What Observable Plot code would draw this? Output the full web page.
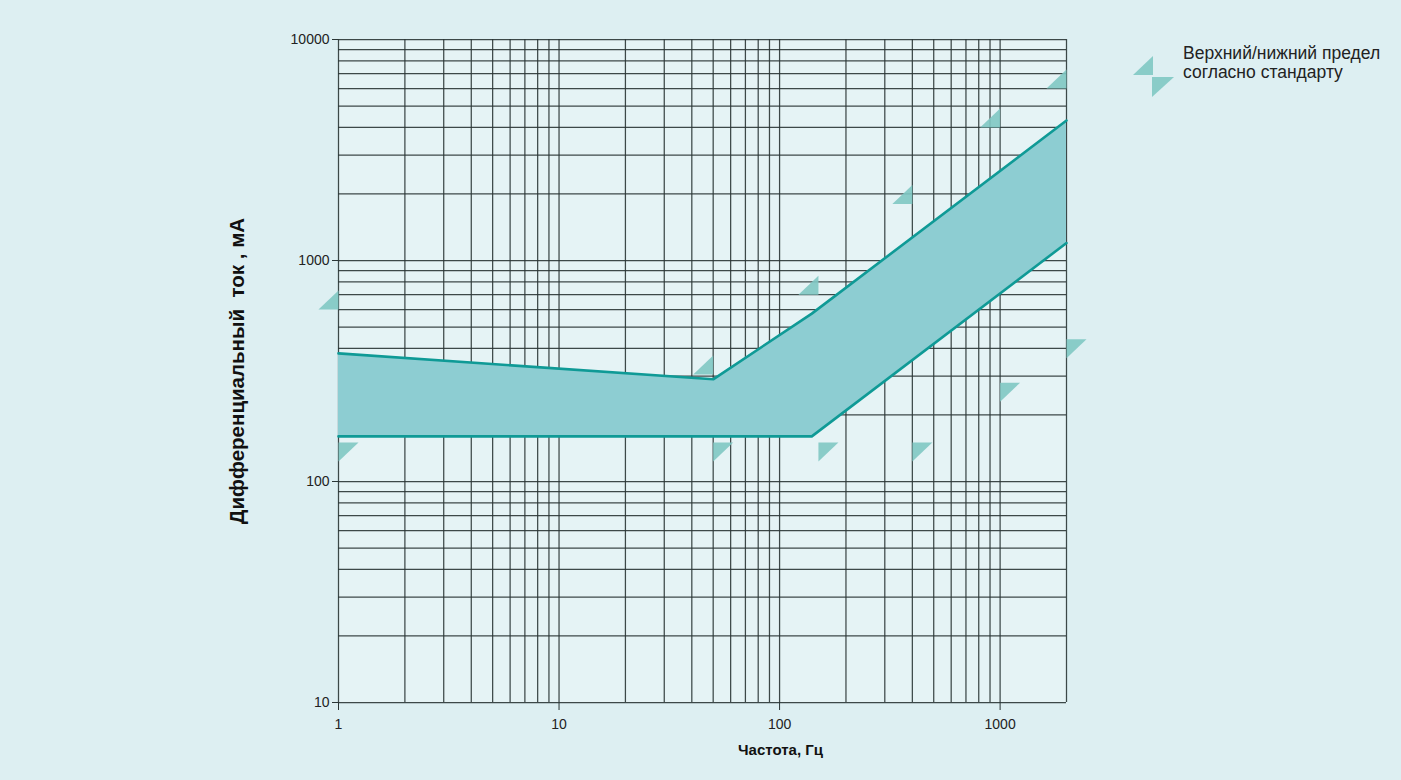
<!DOCTYPE html>
<html>
<head>
<meta charset="utf-8">
<script src="https://cdn.jsdelivr.net/npm/d3@7"></script>
<script src="https://cdn.jsdelivr.net/npm/@observablehq/plot@0.6"></script>
<style>
  html, body { margin: 0; padding: 0; background: #ddeff2; }
  #wrap { position: relative; width: 1401px; height: 780px; overflow: hidden; background: #ddeff2; }
  #legend { position: absolute; left: 1130px; top: 44px; font-family: "Liberation Sans", Arial, sans-serif; font-size: 17.5px; color: #222; }
  #legend svg { position: absolute; left: 0; top: 6px; }
  #legend .txt { position: absolute; left: 53px; top: 0px; line-height: 19px; white-space: nowrap; }
</style>
</head>
<body>
<div id="wrap">
  <div id="chart"></div>
  <div id="legend">
    <svg width="50" height="60">
      <polygon points="3,25 23,6 23,25" fill="#80c8c3" opacity="0.9"/>
      <polygon points="22,27 44,27 22,47" fill="#80c8c3" opacity="0.9"/>
    </svg>
    <div class="txt">Верхний/нижний предел<br>согласно стандарту</div>
  </div>
</div>
<script>
// Band (tripping range) edges
const bandFreq  = [1, 50, 140, 2000];
const bandUpper = [380, 290, 575, 4300];
const bandLower = [160, 160, 160, 1200];

// Standard limits (triangles)
const limitFreq  = [1, 50, 150, 400, 1000, 2000];
const limitUpper = [600, 305, 700, 1800, 4000, 6000];
const limitLower = [150, 150, 150, 150, 280, 440];

// Axis ticks
const xTicks = [1, 10, 100, 1000];
const yTicks = [10, 100, 1000, 10000];

// Grid lines (log paper)
const xGrid = [1,2,3,4,5,6,7,8,9,10,20,30,40,50,60,70,80,90,100,200,300,400,500,600,700,800,900,1000,2000];
const yGrid = [10,20,30,40,50,60,70,80,90,100,200,300,400,500,600,700,800,900,1000,2000,3000,4000,5000,6000,7000,8000,9000,10000];

const band = bandFreq.map((f, i) => ({f, lo: bandLower[i], hi: bandUpper[i]}));
const limits = limitFreq.map((f, i) => ({f, up: limitUpper[i], lo: limitLower[i]}));

// custom right-triangle symbols, right angle at the data point
const triUp = { draw(ctx, size) { const s = Math.sqrt(size / Math.PI); ctx.moveTo(0, 0); ctx.lineTo(-s, 0); ctx.lineTo(0, -s * 0.95); ctx.closePath(); } };
const triDown = { draw(ctx, size) { const s = Math.sqrt(size / Math.PI); ctx.moveTo(0, 0); ctx.lineTo(s, 0); ctx.lineTo(0, s * 0.95); ctx.closePath(); } };

const font = '"Liberation Sans", Arial, sans-serif';
const gridColor = "#2a3535";
const teal = "#0f9a96";

const chart = Plot.plot({
  width: 1401,
  height: 780,
  marginLeft: 338,
  marginRight: 335,
  marginTop: 39,
  marginBottom: 78,
  style: { background: "transparent", fontFamily: font, color: "#222" },
  x: { type: "log", domain: [1, 2000] },
  y: { type: "log", domain: [10, 10000] },
  marks: [
    Plot.frame({ fill: "#e5f3f5", stroke: "none" }),
    Plot.gridX(xGrid, { stroke: gridColor, strokeOpacity: 0.9, strokeWidth: 1.25 }),
    Plot.gridY(yGrid, { stroke: gridColor, strokeOpacity: 0.9, strokeWidth: 1.25 }),
    Plot.areaY(band, { x: "f", y1: "lo", y2: "hi", fill: "#8dcdd2", fillOpacity: 1, curve: "linear" }),
    Plot.line(band, { x: "f", y: "hi", stroke: teal, strokeWidth: 2.6 }),
    Plot.line(band, { x: "f", y: "lo", stroke: teal, strokeWidth: 2.6 }),
    Plot.dot(limits, { x: "f", y: "up", symbol: triUp, r: 20, fill: "#80c8c3", fillOpacity: 0.9, stroke: "none" }),
    Plot.dot(limits, { x: "f", y: "lo", symbol: triDown, r: 20, fill: "#80c8c3", fillOpacity: 0.9, stroke: "none" }),
    Plot.axisX(xTicks, { tickFormat: d => String(d), tickSize: 8, tickPadding: 9, fontSize: 14, stroke: gridColor, label: null }),
    Plot.axisY(yTicks, { tickFormat: d => String(d), tickSize: 6, tickPadding: 3, fontSize: 14, stroke: gridColor, label: null }),
    Plot.text(["Частота, Гц"], { frameAnchor: "bottom", dx: 78, dy: 52, fontSize: 15, fontWeight: "bold", fill: "#111" }),
    Plot.text(["Дифференциальный  ток , мА"], { frameAnchor: "left", textAnchor: "middle", dx: -101, rotate: -90, fontSize: 20.5, fontWeight: "bold", fill: "#111" })
  ]
});
document.getElementById("chart").appendChild(chart);
</script>
</body>
</html>
